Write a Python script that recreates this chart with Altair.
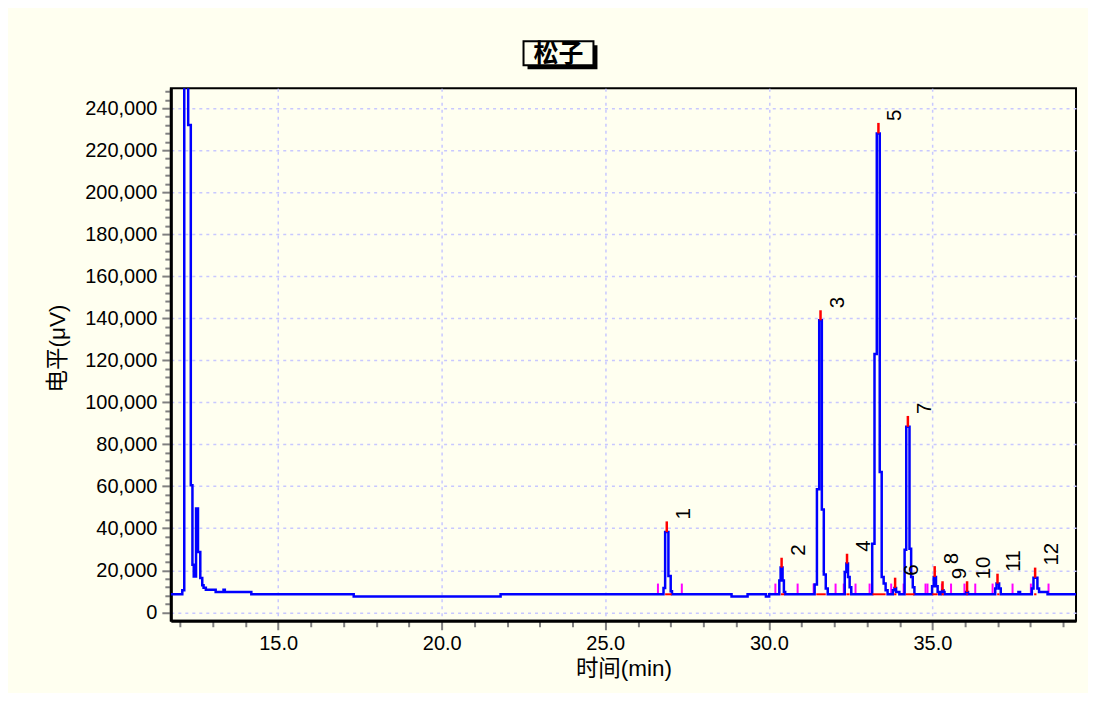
import altair as alt
import pandas as pd

TITLE = "松子"
X_TITLE = "时间(min)"
Y_TITLE = "电平(μV)"

# chromatogram trace, step-after: time (min) -> signal (µV)
trace_t = [11.72, 12.07, 12.13, 12.25, 12.33, 12.38, 12.42, 12.49, 12.55, 12.62,
           12.68, 12.72, 12.79, 13.09, 13.33, 13.37, 14.18, 17.31, 21.80,
           26.78, 26.83, 26.93, 27.00, 27.04, 28.86, 29.35, 29.91, 30.01,
           30.32, 30.36, 30.42, 30.46, 30.50,
           31.40, 31.47, 31.54, 31.62, 31.68, 31.74, 31.80,
           32.32, 32.37, 32.42, 32.47, 32.52,
           33.16, 33.23, 33.30, 33.39, 33.45, 33.51, 33.57, 33.63,
           33.79, 33.84, 33.89, 33.99,
           34.15, 34.20, 34.30, 34.35, 34.40, 34.45,
           34.99, 35.04, 35.11, 35.16, 35.21, 35.27, 35.30, 35.34, 35.37,
           36.03, 36.09, 36.92, 36.96, 37.04, 37.09, 37.63, 37.68,
           38.04, 38.09, 38.21, 38.26, 38.52, 39.39]
trace_v = [8600, 10500, 262000, 232000, 60500, 22700, 17100, 49400, 28700, 16300,
           12900, 11700, 10800, 9700, 10800, 9700, 8600, 7600, 8600,
           11600, 38200, 17300, 10000, 8600, 7600, 8600, 7600, 8600,
           15200, 21300, 15200, 9700, 8600,
           13300, 58600, 139000, 49000, 18000, 11300, 8600,
           19200, 23200, 16800, 12000, 8600,
           32700, 123000, 228000, 66800, 16800, 13700, 10500, 8600,
           10500, 11600, 9700, 8600,
           29800, 88300, 30300, 16800, 12000, 8600,
           12400, 16800, 12400, 9700, 8600, 9700, 10500, 9700, 8600,
           9700, 8600, 11300, 13700, 11300, 8600, 9700, 8600,
           11300, 16500, 11300, 9700, 8600, 8600]

# detected peaks
peak_no = ["1", "2", "3", "4", "5", "6", "7", "8", "9", "10", "11", "12"]
apex_t = [26.88, 30.39, 31.58, 32.39, 33.35, 33.86, 34.25, 35.07, 35.31, 36.06, 36.99, 38.14]
apex_blue = [38200, 21300, 139000, 23200, 228000, 11600, 88300, 16800, 10500, 9700, 13700, 16500]
apex_red = [43300, 26000, 143800, 27900, 233000, 16500, 93500, 22000, 14800, 14800, 18400, 21300]
seg_start = [26.83, 30.37, 31.45, 32.37, 33.17, 33.83, 34.19, 35.00, 35.28, 36.04, 36.98, 38.11]
seg_end = [27.03, 30.47, 31.74, 32.47, 33.57, 33.90, 34.45, 35.16, 35.35, 36.08, 37.05, 38.18]
baseline_v = 8600

# integration event marks
event_t = [26.61, 27.34, 30.20, 30.88, 31.37, 32.04, 32.29, 32.65, 33.08, 33.74,
           34.12, 34.79, 34.85, 35.29, 35.57, 35.98, 36.31, 36.84, 37.45, 38.01, 38.55]
event_lo = 8600
event_hi = 13700

x_ticks = list(range(12, 40))
y_ticks = list(range(0, 248001, 4000))

BG = "#FFFFF0"
FONT = "Liberation Sans, Noto Sans CJK SC"

trace = pd.DataFrame({"t": trace_t, "v": trace_v})
peaks = pd.DataFrame({"label": peak_no, "t": apex_t, "blue": apex_blue, "red": apex_red,
                      "s": seg_start, "e": seg_end, "b": [baseline_v] * len(peak_no)})
events = pd.DataFrame({"t": event_t, "lo": [event_lo] * len(event_t), "hi": [event_hi] * len(event_t)})
title_df = pd.DataFrame({"title": [TITLE]})

xscale = alt.Scale(domain=[11.72, 39.39], nice=False, zero=False)
yscale = alt.Scale(domain=[-4000, 249500], nice=False, zero=False)

xaxis = alt.Axis(
    values=x_ticks,
    labelExpr="datum.value % 5 === 0 ? format(datum.value, '.1f') : ''",
    tickSize={"condition": {"test": "datum.value % 5 === 0", "value": 9}, "value": 6},
    gridOpacity={"condition": {"test": "datum.value % 5 === 0", "value": 1}, "value": 0},
    grid=True, gridColor="#C8C8FF", gridDash=[3, 4], gridWidth=1.5,
    domainColor="black", domainWidth=3, tickColor="#808080", tickWidth=2,
    labelFont=FONT, labelFontSize=20, labelColor="black", labelPadding=4,
    labelOverlap=False, labelFlush=False,
    title=X_TITLE, titleFont=FONT, titleFontSize=22.5, titleFontWeight="normal",
    titleColor="black", titlePadding=4,
)
yaxis = alt.Axis(
    values=y_ticks,
    labelExpr="datum.value % 20000 === 0 ? format(datum.value, ',') : ''",
    tickSize={"condition": {"test": "datum.value % 20000 === 0", "value": 9}, "value": 6},
    gridOpacity={"condition": {"test": "datum.value % 20000 === 0", "value": 1}, "value": 0},
    grid=True, gridColor="#C8C8FF", gridDash=[3, 4], gridWidth=1.5,
    domainColor="black", domainWidth=3, tickColor="#808080", tickWidth=2,
    labelFont=FONT, labelFontSize=20, labelColor="black", labelPadding=5,
    labelOverlap=False, labelFlush=False,
    title=Y_TITLE, titleFont=FONT, titleFontSize=22.5, titleFontWeight="normal",
    titleColor="black", titleX=-113, titleY=260, titleBaseline="middle",
)

X = lambda f: alt.X(f, type="quantitative", scale=xscale, axis=xaxis)
Y = lambda f: alt.Y(f, type="quantitative", scale=yscale, axis=yaxis)

ev = alt.Chart(events).mark_rule(color="#FF00FF", strokeWidth=2).encode(
    x=X("t"), y=Y("lo"), y2="hi")

line = alt.Chart(trace).mark_line(color="#0000FF", strokeWidth=2.5, interpolate="step-after",
                                  clip=True).encode(x=X("t"), y=Y("v"))

seg = alt.Chart(peaks).mark_rule(color="#FF0000", strokeWidth=2).encode(
    x=X("s"), x2="e", y=Y("b"))

apex = alt.Chart(peaks).mark_rule(color="#FF0000", strokeWidth=2.5).encode(
    x=X("t"), y=Y("blue"), y2="red")

labels = alt.Chart(peaks).mark_text(angle=270, align="left", baseline="middle", dx=2, dy=17,
                                    fontSize=20.5, font=FONT, color="black").encode(
    x=X("t"), y=Y("red"), text="label:N")

shadow = alt.Chart(title_df).mark_rect(fill="black").encode(
    x=alt.value(357), x2=alt.value(427), y=alt.value(-43), y2=alt.value(-19))
box = alt.Chart(title_df).mark_rect(fill=BG, stroke="black", strokeWidth=2).encode(
    x=alt.value(353), x2=alt.value(423), y=alt.value(-47), y2=alt.value(-23))
ttl = alt.Chart(title_df).mark_text(font="Noto Sans CJK SC", fontSize=25, fontWeight="bold",
                                    align="center", baseline="middle", color="black").encode(
    x=alt.value(388), y=alt.value(-34), text="title:N")

chart = alt.layer(ev, line, seg, apex, labels, shadow, box, ttl).properties(
    width=906, height=533,
    autosize=alt.AutoSizeParams(type="none"),
    padding={"left": 163, "top": 80, "right": 12, "bottom": 72},
).configure(background=BG).configure_view(stroke="black", strokeWidth=2, fill=BG)

chart.save("out.html", embed_options={"renderer": "svg", "actions": False})
